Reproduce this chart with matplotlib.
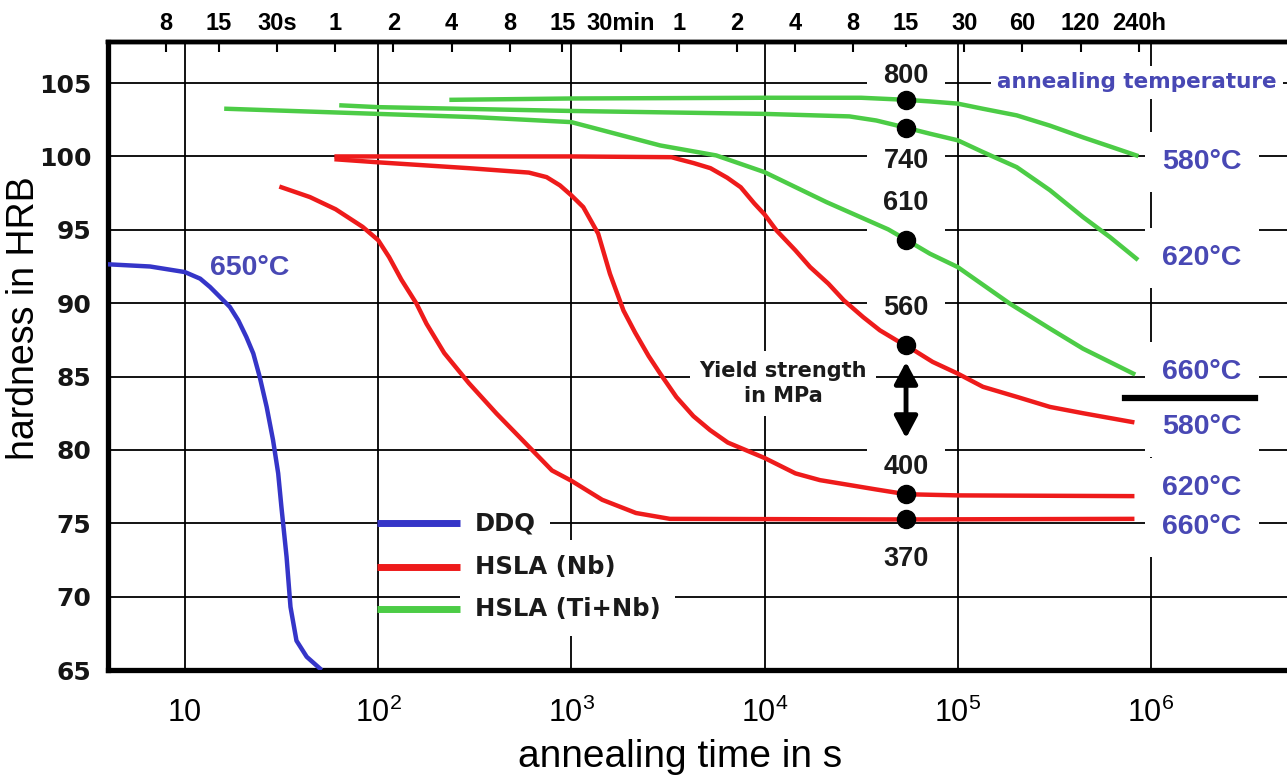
import matplotlib.pyplot as plt
from matplotlib import ticker

# annealing time in s, hardness in HRB
ddq_t = [4.0, 6.6, 10, 12.0, 13.5, 15.2, 17.1, 18.9, 20.8, 22.6, 24.4, 26.5, 28.6, 30.4,
         31.6, 33.6, 35.2, 37.8, 42.7, 50]
ddq_hrb = [92.65, 92.5, 92.12, 91.67, 91.1, 90.42, 89.74, 88.83, 87.7, 86.57, 84.97, 82.93,
           80.66, 78.4, 76.1, 72.7, 69.3, 67.0, 65.9, 65.1]

nb580_t = [61, 100, 1000, 3300, 3630, 4290, 5250, 6410, 7530, 8850, 1e4, 11530, 14450,
           17220, 21400, 25700, 32400, 39540, 48200, 54000, 74100, 1e5, 1.35e5, 2.04e5,
           3.0e5, 4.45e5, 8.0e5]
nb580_hrb = [100.0, 100.0, 100.0, 99.95, 99.8, 99.55, 99.2, 98.55, 97.9, 96.8, 96.05, 94.96,
             93.6, 92.46, 91.33, 90.2, 89.05, 88.15, 87.47, 87.13, 86.0, 85.2, 84.3, 83.6,
             82.93, 82.5, 81.9]

nb620_t = [61, 100, 295, 603, 745, 873, 1000, 1153, 1377, 1585, 1862, 2138, 2512, 2884,
           3499, 4285, 5224, 6457, 1e4, 14450, 19360, 26300, 38000, 54000, 1e5, 8.0e5]
nb620_hrb = [99.8, 99.6, 99.2, 98.9, 98.59, 98.03, 97.35, 96.55, 94.74, 92.0, 89.5, 88.0,
             86.4, 85.2, 83.6, 82.3, 81.35, 80.5, 79.45, 78.4, 77.94, 77.65, 77.3, 76.98,
             76.9, 76.85]

nb660_t = [31.6, 44.4, 60.3, 83.2, 100, 114, 132, 158, 178, 220, 295, 410, 537, 794, 1000,
           1445, 2160, 3240, 54000, 8.0e5]
nb660_hrb = [97.9, 97.23, 96.4, 95.2, 94.3, 93.14, 91.6, 89.97, 88.6, 86.6, 84.55, 82.48,
             80.9, 78.6, 77.9, 76.6, 75.7, 75.3, 75.26, 75.3]

tinb580_t = [240, 1000, 1e4, 31600, 54000, 71800, 1e5, 1.35e5, 2.02e5, 3.0e5, 4.45e5,
             6.14e5, 8.4e5]
tinb580_hrb = [103.86, 103.95, 104.0, 104.0, 103.86, 103.75, 103.6, 103.25, 102.8, 102.1,
               101.3, 100.68, 100.07]

tinb620_t = [64.6, 100, 1000, 1e4, 27500, 37900, 54000, 71800, 1e5, 1.35e5, 2.02e5, 3.0e5,
             4.45e5, 6.14e5, 8.4e5]
tinb620_hrb = [103.48, 103.36, 103.1, 102.9, 102.73, 102.45, 101.96, 101.55, 101.1, 100.3,
               99.27, 97.7, 95.87, 94.5, 93.04]

tinb660_t = [16.4, 100, 316, 1000, 1462, 2884, 5623, 1e4, 20900, 43650, 54000, 71800, 1e5,
             1.86e5, 3.0e5, 4.45e5, 8.1e5]
tinb660_hrb = [103.25, 102.9, 102.68, 102.34, 101.77, 100.75, 100.07, 98.93, 96.89, 95.03,
               94.33, 93.37, 92.46, 89.97, 88.27, 86.9, 85.2]

# yield strength points after 15 h
ys_t = 54000
ys_hrb = [103.86, 101.96, 94.33, 87.13, 76.98, 75.26]
ys_mpa = ["800", "740", "610", "560", "400", "370"]

top_ticks = [8, 15, 30, 60, 120, 240, 480, 900, 1800, 3600, 7200, 14400, 28800,
             54000, 108000, 216000, 432000, 864000]
top_labels = ["8", "15", "30s", "1", "2", "4", "8", "15", "30min", "1", "2", "4", "8",
              "15", "30", "60", "120", "240h"]
bottom_ticks = [10, 1e2, 1e3, 1e4, 1e5, 1e6]
bottom_labels = ["10", "10$^2$", "10$^3$", "10$^4$", "10$^5$", "10$^6$"]

BLUE = "#3535c8"
RED = "#ee1b1b"
GREEN = "#4ccc46"
LABEL_BLUE = "#4848b4"
ARIAL = ["Liberation Sans", "DejaVu Sans"]


def white_box(pad=0.6):
    return dict(boxstyle="square,pad=%s" % pad, fc="white", ec="none")


def draw():
    plt.rcParams["font.family"] = ["DejaVu Sans"]
    plt.rcParams["mathtext.default"] = "regular"

    fig = plt.figure(figsize=(12.87, 7.78), dpi=100)
    ax = fig.add_axes([108 / 1287, 108 / 778, 1179 / 1287, 628 / 778])
    ax.set_xscale("log")
    ax.set_xlim(4.0, 5.06e6)
    ax.set_ylim(65, 107.8)

    ax.set_xticks(bottom_ticks, labels=bottom_labels, fontsize=22, family=ARIAL)
    ax.xaxis.set_minor_locator(ticker.NullLocator())
    ax.set_yticks(range(65, 106, 5))
    ax.set_yticklabels([str(v) for v in range(65, 106, 5)], fontsize=18,
                       weight="bold", color="#151515")
    ax.tick_params(axis="x", length=0, pad=20)
    ax.tick_params(axis="y", length=0, pad=12)
    ax.grid(True, color="black", lw=1.3)
    ax.set_axisbelow(True)

    ax.spines["right"].set_visible(False)
    ax.spines["left"].set_linewidth(3.8)
    ax.spines["bottom"].set_linewidth(3.8)
    ax.spines["top"].set_linewidth(3.2)

    top = ax.secondary_xaxis("top")
    top.set_xticks(top_ticks, labels=top_labels, fontsize=17, weight="bold", family=ARIAL)
    top.xaxis.set_minor_locator(ticker.NullLocator())
    top.tick_params(direction="in", length=7, width=1.5, pad=5)
    top.spines["top"].set_linewidth(3.2)

    # hardness curves
    curves = [
        (ddq_t, ddq_hrb, BLUE),
        (nb580_t, nb580_hrb, RED),
        (nb620_t, nb620_hrb, RED),
        (nb660_t, nb660_hrb, RED),
        (tinb580_t, tinb580_hrb, GREEN),
        (tinb620_t, tinb620_hrb, GREEN),
        (tinb660_t, tinb660_hrb, GREEN),
    ]
    for t, hrb, c in curves:
        ax.plot(t, hrb, color=c, lw=3.2, solid_joinstyle="round", zorder=3)

    # yield strength markers and their values
    ax.plot([ys_t] * len(ys_hrb), ys_hrb, "o", color="black", ms=13, zorder=5)
    ys_label_y = [105.47, 99.68, 96.8, 89.65, 78.82, 72.56]
    for s, y in zip(ys_mpa, ys_label_y):
        ax.text(ys_t, y, s, ha="center", va="center", fontsize=19.5, weight="bold",
                family=ARIAL, color="#1a1a1a", bbox=white_box(0.6), zorder=2.5)

    ax.annotate("", xy=(ys_t, 80.8), xytext=(ys_t, 86.0),
                arrowprops=dict(arrowstyle="<|-|>,head_length=0.6,head_width=0.32",
                                lw=3.5, color="black", shrinkA=0, shrinkB=0,
                                mutation_scale=22), zorder=4)
    ax.text(12450, 84.53, "Yield strength\nin MPa", ha="center", va="center",
            multialignment="center", fontsize=15, weight="bold", linespacing=1.35,
            color="#1a1a1a", bbox=white_box(0.45), zorder=2.5)

    # annealing temperature labels
    ax.text(1.6e5, 105.04, "annealing temperature", ha="left", va="center",
            fontsize=15.5, weight="bold", color=LABEL_BLUE, bbox=white_box(0.3), zorder=2.5)
    temp_labels = [("580°C", 99.6), ("620°C", 93.1), ("660°C", 85.3),
                   ("580°C", 81.55), ("620°C", 77.4), ("660°C", 74.73)]
    for s, y in temp_labels:
        ax.text(1.84e6, y, s, ha="center", va="center", fontsize=20.5, weight="bold",
                family=ARIAL, color=LABEL_BLUE, bbox=white_box(0.6), zorder=2.5)
    ax.text(21.7, 92.38, "650°C", ha="center", va="center", fontsize=20.5, weight="bold",
            family=ARIAL, color=LABEL_BLUE, zorder=2.5)

    # separator between Ti+Nb and Nb temperature labels
    ax.axhline(83.54, xmin=0.863, xmax=0.973, color="black", lw=4.5, zorder=4)

    # legend
    legend = [("DDQ", BLUE, 0.234), ("HSLA (Nb)", RED, 0.164), ("HSLA (Ti+Nb)", GREEN, 0.097)]
    for name, c, fy in legend:
        ax.plot([0.228, 0.2986], [fy, fy], transform=ax.transAxes, color=c, lw=5,
                solid_capstyle="butt", zorder=4)
        ax.text(0.311, fy, name, transform=ax.transAxes, ha="left", va="center",
                fontsize=17.5, weight="bold", color="#1a1a1a", bbox=white_box(0.6),
                zorder=2.5)

    ax.set_xlabel("annealing time in s", fontsize=28, family=ARIAL, va="center")
    ax.xaxis.set_label_coords(0.485, -0.139)
    ax.set_ylabel("hardness in HRB", fontsize=27, family=ARIAL, va="center")
    ax.yaxis.set_label_coords(-0.0715, 0.56)

    fig.savefig("out.png", dpi=100)


def main():
    draw()


if __name__ == "__main__":
    main()
